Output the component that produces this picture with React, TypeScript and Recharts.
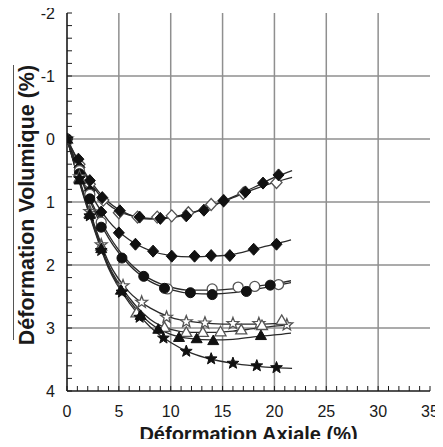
import React from 'react';
import { ComposedChart, XAxis, YAxis, Line, Scatter, ReferenceLine } from 'recharts';

type Pt = { x: number; y: number };

// ---- tick labels / axes ----
const xMajor = [0, 5, 10, 15, 20, 25, 30, 35];
const yMajor = [-2, -1, 0, 1, 2, 3, 4];
const xGrid = [5, 10, 15, 20, 25, 30];
const yGrid = [-1, 0, 1, 2, 3];
const xTicks = Array.from({ length: 36 }, (_, i) => i);
const yTicks = Array.from({ length: 31 }, (_, i) => Math.round((-2 + i * 0.2) * 10) / 10);

const xTitle = 'Déformation Axiale (%)';
const yTitle = 'Déformation Volumique  (%)';

// ---- measured points (markers) ----
const diamondTopFilled: Pt[] = [
  { x: 0, y: 0 }, { x: 1.1, y: 0.32 }, { x: 2.2, y: 0.66 }, { x: 3.4, y: 0.93 }, { x: 5.1, y: 1.14 },
  { x: 7.0, y: 1.24 }, { x: 9.0, y: 1.26 }, { x: 11.5, y: 1.22 }, { x: 13.2, y: 1.13 }, { x: 15.1, y: 0.98 },
  { x: 17.2, y: 0.84 }, { x: 18.9, y: 0.7 }, { x: 20.4, y: 0.57 },
];
const diamondTopOpen: Pt[] = [
  { x: 0, y: 0 }, { x: 1.2, y: 0.4 }, { x: 2.2, y: 0.72 }, { x: 3.5, y: 0.97 }, { x: 5.0, y: 1.17 },
  { x: 6.8, y: 1.24 }, { x: 8.7, y: 1.24 }, { x: 10.1, y: 1.22 }, { x: 11.7, y: 1.17 }, { x: 13.9, y: 1.04 },
  { x: 15.1, y: 0.98 }, { x: 17.0, y: 0.86 }, { x: 20.2, y: 0.69 },
];
const diamondMid: Pt[] = [
  { x: 0, y: 0 }, { x: 1.2, y: 0.45 }, { x: 2.2, y: 0.82 }, { x: 3.3, y: 1.16 }, { x: 5.0, y: 1.49 },
  { x: 6.6, y: 1.67 }, { x: 8.3, y: 1.78 }, { x: 10.1, y: 1.86 }, { x: 12.3, y: 1.86 }, { x: 13.9, y: 1.85 },
  { x: 15.7, y: 1.85 }, { x: 18.0, y: 1.75 }, { x: 20.2, y: 1.67 },
];
const circleFilled: Pt[] = [
  { x: 0, y: 0 }, { x: 1.2, y: 0.55 }, { x: 2.2, y: 0.95 }, { x: 3.3, y: 1.4 }, { x: 5.3, y: 1.89 },
  { x: 7.4, y: 2.18 }, { x: 9.4, y: 2.37 }, { x: 11.9, y: 2.44 }, { x: 14.0, y: 2.47 }, { x: 17.3, y: 2.42 },
  { x: 19.6, y: 2.32 },
];
const circleOpen: Pt[] = [
  { x: 0, y: 0 }, { x: 1.2, y: 0.5 }, { x: 2.2, y: 0.88 }, { x: 3.3, y: 1.32 }, { x: 9.7, y: 2.38 },
  { x: 14.0, y: 2.38 }, { x: 16.5, y: 2.35 }, { x: 18.1, y: 2.34 }, { x: 20.4, y: 2.31 },
];
const starOpen: Pt[] = [
  { x: 0, y: 0 }, { x: 1.2, y: 0.6 }, { x: 2.2, y: 1.15 }, { x: 3.3, y: 1.68 }, { x: 5.4, y: 2.33 },
  { x: 7.2, y: 2.59 }, { x: 9.6, y: 2.83 }, { x: 11.5, y: 2.9 }, { x: 13.3, y: 2.92 }, { x: 16.0, y: 2.93 },
  { x: 18.5, y: 2.93 }, { x: 21.2, y: 2.95 },
];
const triangleOpen: Pt[] = [
  { x: 0, y: 0 }, { x: 1.2, y: 0.62 }, { x: 2.2, y: 1.18 }, { x: 3.3, y: 1.7 }, { x: 6.7, y: 2.76 },
  { x: 9.4, y: 2.99 }, { x: 11.5, y: 3.07 }, { x: 13.1, y: 3.07 }, { x: 14.8, y: 3.06 }, { x: 16.8, y: 3.03 },
  { x: 18.8, y: 2.96 }, { x: 20.7, y: 2.88 },
];
const triangleFilled: Pt[] = [
  { x: 0, y: 0 }, { x: 1.2, y: 0.65 }, { x: 2.2, y: 1.2 }, { x: 3.3, y: 1.74 }, { x: 5.2, y: 2.4 },
  { x: 7.1, y: 2.8 }, { x: 8.8, y: 3.02 }, { x: 10.8, y: 3.15 }, { x: 12.5, y: 3.17 }, { x: 14.1, y: 3.2 },
  { x: 18.7, y: 3.12 },
];
const starFilled: Pt[] = [
  { x: 0, y: 0 }, { x: 1.2, y: 0.63 }, { x: 2.2, y: 1.22 }, { x: 3.3, y: 1.77 }, { x: 5.3, y: 2.43 },
  { x: 7.0, y: 2.83 }, { x: 9.3, y: 3.16 }, { x: 11.5, y: 3.37 }, { x: 13.9, y: 3.49 }, { x: 16.0, y: 3.56 },
  { x: 18.3, y: 3.6 }, { x: 20.2, y: 3.63 },
];

// ---- fitted curves ----
const fitDiamondTopFilled: Pt[] = [
  { x: 0, y: 0 }, { x: 2, y: 0.6 }, { x: 4, y: 1.0 }, { x: 6, y: 1.2 }, { x: 8, y: 1.27 }, { x: 10, y: 1.25 },
  { x: 12, y: 1.18 }, { x: 14, y: 1.06 }, { x: 16, y: 0.92 }, { x: 18, y: 0.77 }, { x: 20, y: 0.61 }, { x: 21.7, y: 0.5 },
];
const fitDiamondTopOpen: Pt[] = [
  { x: 0, y: 0 }, { x: 2, y: 0.63 }, { x: 4, y: 1.04 }, { x: 6, y: 1.21 }, { x: 8, y: 1.26 }, { x: 10, y: 1.24 },
  { x: 12, y: 1.17 }, { x: 14, y: 1.06 }, { x: 16, y: 0.93 }, { x: 18, y: 0.8 }, { x: 20, y: 0.69 }, { x: 21.7, y: 0.61 },
];
const fitDiamondMid: Pt[] = [
  { x: 0, y: 0 }, { x: 2, y: 0.78 }, { x: 4, y: 1.3 }, { x: 6, y: 1.6 }, { x: 8, y: 1.77 }, { x: 10, y: 1.85 },
  { x: 12, y: 1.87 }, { x: 14, y: 1.86 }, { x: 16, y: 1.83 }, { x: 18, y: 1.75 }, { x: 20, y: 1.67 }, { x: 21.6, y: 1.6 },
];
const fitCircleFilled: Pt[] = [
  { x: 0, y: 0 }, { x: 2, y: 0.9 }, { x: 4, y: 1.57 }, { x: 6, y: 2.0 }, { x: 8, y: 2.26 }, { x: 10, y: 2.39 },
  { x: 12, y: 2.45 }, { x: 14, y: 2.46 }, { x: 16, y: 2.44 }, { x: 18, y: 2.39 }, { x: 20, y: 2.33 }, { x: 21.6, y: 2.28 },
];
const fitCircleOpen: Pt[] = [
  { x: 0, y: 0 }, { x: 2, y: 0.86 }, { x: 4, y: 1.52 }, { x: 6, y: 1.96 }, { x: 8, y: 2.22 }, { x: 10, y: 2.35 },
  { x: 12, y: 2.4 }, { x: 14, y: 2.4 }, { x: 16, y: 2.38 }, { x: 18, y: 2.34 }, { x: 20, y: 2.3 }, { x: 21.6, y: 2.25 },
];
const fitStarOpen: Pt[] = [
  { x: 0, y: 0 }, { x: 2, y: 1.05 }, { x: 4, y: 1.95 }, { x: 6, y: 2.43 }, { x: 8, y: 2.68 }, { x: 10, y: 2.83 },
  { x: 12, y: 2.9 }, { x: 14, y: 2.93 }, { x: 16, y: 2.94 }, { x: 18, y: 2.94 }, { x: 20, y: 2.93 }, { x: 21.6, y: 2.92 },
];
const fitTriangleOpen: Pt[] = [
  { x: 0, y: 0 }, { x: 2, y: 1.08 }, { x: 4, y: 2.0 }, { x: 6, y: 2.52 }, { x: 8, y: 2.86 }, { x: 10, y: 3.02 },
  { x: 12, y: 3.07 }, { x: 14, y: 3.07 }, { x: 16, y: 3.05 }, { x: 18, y: 3.01 }, { x: 20, y: 2.97 }, { x: 21.6, y: 2.95 },
];
const fitTriangleFilled: Pt[] = [
  { x: 0, y: 0 }, { x: 2, y: 1.1 }, { x: 4, y: 2.03 }, { x: 6, y: 2.56 }, { x: 8, y: 2.92 }, { x: 10, y: 3.1 },
  { x: 12, y: 3.17 }, { x: 14, y: 3.19 }, { x: 16, y: 3.18 }, { x: 18, y: 3.14 }, { x: 20, y: 3.11 }, { x: 21.6, y: 3.08 },
];
const fitStarFilled: Pt[] = [
  { x: 0, y: 0 }, { x: 2, y: 1.12 }, { x: 4, y: 2.05 }, { x: 6, y: 2.6 }, { x: 8, y: 2.98 }, { x: 10, y: 3.23 },
  { x: 12, y: 3.4 }, { x: 14, y: 3.5 }, { x: 16, y: 3.56 }, { x: 18, y: 3.6 }, { x: 20, y: 3.63 }, { x: 21.7, y: 3.64 },
];

type Kind = 'diamond' | 'circle' | 'star' | 'triangle';
const SERIES: { name: string; pts: Pt[]; fit: Pt[]; kind: Kind; filled: boolean }[] = [
  { name: 'dto', pts: diamondTopOpen, fit: fitDiamondTopOpen, kind: 'diamond', filled: false },
  { name: 'dtf', pts: diamondTopFilled, fit: fitDiamondTopFilled, kind: 'diamond', filled: true },
  { name: 'dm', pts: diamondMid, fit: fitDiamondMid, kind: 'diamond', filled: true },
  { name: 'co', pts: circleOpen, fit: fitCircleOpen, kind: 'circle', filled: false },
  { name: 'cf', pts: circleFilled, fit: fitCircleFilled, kind: 'circle', filled: true },
  { name: 'so', pts: starOpen, fit: fitStarOpen, kind: 'star', filled: false },
  { name: 'to', pts: triangleOpen, fit: fitTriangleOpen, kind: 'triangle', filled: false },
  { name: 'tf', pts: triangleFilled, fit: fitTriangleFilled, kind: 'triangle', filled: true },
  { name: 'sf', pts: starFilled, fit: fitStarFilled, kind: 'star', filled: true },
];

const FONT = '"Liberation Sans", Arial, Helvetica, sans-serif';
const INK = '#1a1a1a';

function starPoints(cx: number, cy: number, ro: number, ri: number) {
  const pts: string[] = [];
  for (let i = 0; i < 10; i++) {
    const r = i % 2 === 0 ? ro : ri;
    const a = -Math.PI / 2 + (i * Math.PI) / 5;
    pts.push(`${cx + r * Math.cos(a)},${cy + r * Math.sin(a)}`);
  }
  return pts.join(' ');
}

const makeShape = (kind: Kind, filled: boolean) => (props: any) => {
  const { cx, cy } = props;
  if (cx == null || cy == null) return <g />;
  const fill = filled ? '#111' : '#fff';
  const stroke = filled ? '#111' : '#555';
  const sw = filled ? 1 : 1.3;
  switch (kind) {
    case 'diamond':
      return (
        <polygon
          points={`${cx},${cy - 6} ${cx + 5.5},${cy} ${cx},${cy + 6} ${cx - 5.5},${cy}`}
          fill={fill}
          stroke={stroke}
          strokeWidth={sw}
        />
      );
    case 'circle':
      return <circle cx={cx} cy={cy} r={5} fill={fill} stroke={stroke} strokeWidth={sw} />;
    case 'triangle':
      return (
        <polygon
          points={`${cx},${cy - 5.5} ${cx + 5.5},${cy + 4} ${cx - 5.5},${cy + 4}`}
          fill={fill}
          stroke={stroke}
          strokeWidth={sw}
        />
      );
    default:
      return <polygon points={starPoints(cx, cy, 6.2, 2.6)} fill={fill} stroke={stroke} strokeWidth={sw} />;
  }
};

const XLabel = (props: any) => {
  const vb = props.viewBox || { x: 0, y: 0, width: 0, height: 0 };
  return (
    <text
      x={vb.x + vb.width / 2}
      y={vb.y + vb.height - 6}
      textAnchor="middle"
      fontFamily={FONT}
      fontWeight="bold"
      fontSize={20}
      fill={INK}
    >
      {xTitle}
    </text>
  );
};

const YLabel = (props: any) => {
  const vb = props.viewBox || { x: 0, y: 0, width: 0, height: 0 };
  const cx = vb.x + 27;
  const cy = vb.y + vb.height / 2 + 3;
  return (
    <g>
      <line x1={vb.x + 13.5} x2={vb.x + 13.5} y1={cy - 140} y2={cy + 135} stroke="#555" strokeWidth={1} />
      <text
        x={cx}
        y={cy}
        transform={`rotate(-90 ${cx} ${cy})`}
        textAnchor="middle"
        dominantBaseline="central"
        fontFamily={FONT}
        fontWeight="bold"
        fontSize={21.5}
        fill={INK}
      >
        {yTitle}
      </text>
    </g>
  );
};

const fmtX = (v: number) => (xMajor.includes(v) ? String(v) : '');
const fmtY = (v: number) => {
  const r = Math.round(v);
  return Math.abs(v - r) < 1e-6 && yMajor.includes(r) ? String(r) : '';
};

const tickStyle = { fontSize: 16, fill: INK, fontFamily: FONT };

export default function App() {
  return (
    <div style={{ width: 443, height: 447, margin: '-8px 0 -8px -8px', background: '#fff' }}>
      <ComposedChart width={443} height={447} margin={{ top: 13, right: 13, bottom: 0, left: 0 }}>
        <XAxis
          type="number"
          dataKey="x"
          domain={[0, 35]}
          ticks={xTicks}
          interval={0}
          tickFormatter={fmtX}
          tickSize={-5}
          tickMargin={20}
          height={56}
          axisLine={{ stroke: INK, strokeWidth: 1.6 }}
          tickLine={{ stroke: INK, strokeWidth: 1 }}
          tick={tickStyle}
          allowDataOverflow
          label={<XLabel />}
        />
        <XAxis
          xAxisId="top"
          orientation="top"
          type="number"
          dataKey="x"
          domain={[0, 35]}
          ticks={xTicks}
          interval={0}
          tickFormatter={() => ''}
          tickSize={-5}
          tickMargin={2}
          height={0}
          axisLine={{ stroke: INK, strokeWidth: 1.6 }}
          tickLine={{ stroke: INK, strokeWidth: 1 }}
          tick={tickStyle}
          allowDataOverflow
        />
        <YAxis
          type="number"
          dataKey="y"
          domain={[-2, 4]}
          reversed
          ticks={yTicks}
          interval={0}
          tickFormatter={fmtY}
          tickSize={-5}
          tickMargin={17}
          width={67}
          axisLine={{ stroke: INK, strokeWidth: 1.6 }}
          tickLine={{ stroke: INK, strokeWidth: 1 }}
          tick={tickStyle}
          allowDataOverflow
          label={<YLabel />}
        />
        <YAxis
          yAxisId="right"
          orientation="right"
          type="number"
          dataKey="y"
          domain={[-2, 4]}
          reversed
          ticks={yTicks}
          interval={0}
          tickFormatter={() => ''}
          tickSize={-5}
          tickMargin={2}
          width={0}
          axisLine={{ stroke: INK, strokeWidth: 1.6 }}
          tickLine={{ stroke: INK, strokeWidth: 1 }}
          tick={tickStyle}
          allowDataOverflow
        />
        {xGrid.map((v) => (
          <ReferenceLine key={`gx${v}`} x={v} stroke="#8f8f8f" strokeWidth={1.5} />
        ))}
        {yGrid.map((v) => (
          <ReferenceLine key={`gy${v}`} y={v} stroke="#8f8f8f" strokeWidth={1.5} />
        ))}
        {SERIES.map((s) => (
          <Line
            key={`l-${s.name}`}
            data={s.fit}
            dataKey="y"
            type="monotone"
            stroke="#2a2a2a"
            strokeWidth={1.3}
            dot={false}
            activeDot={false}
            isAnimationActive={false}
          />
        ))}
        {SERIES.map((s) => (
          <Scatter
            key={`s-${s.name}`}
            data={s.pts}
            dataKey="y"
            shape={makeShape(s.kind, s.filled)}
            isAnimationActive={false}
          />
        ))}
      </ComposedChart>
    </div>
  );
}
